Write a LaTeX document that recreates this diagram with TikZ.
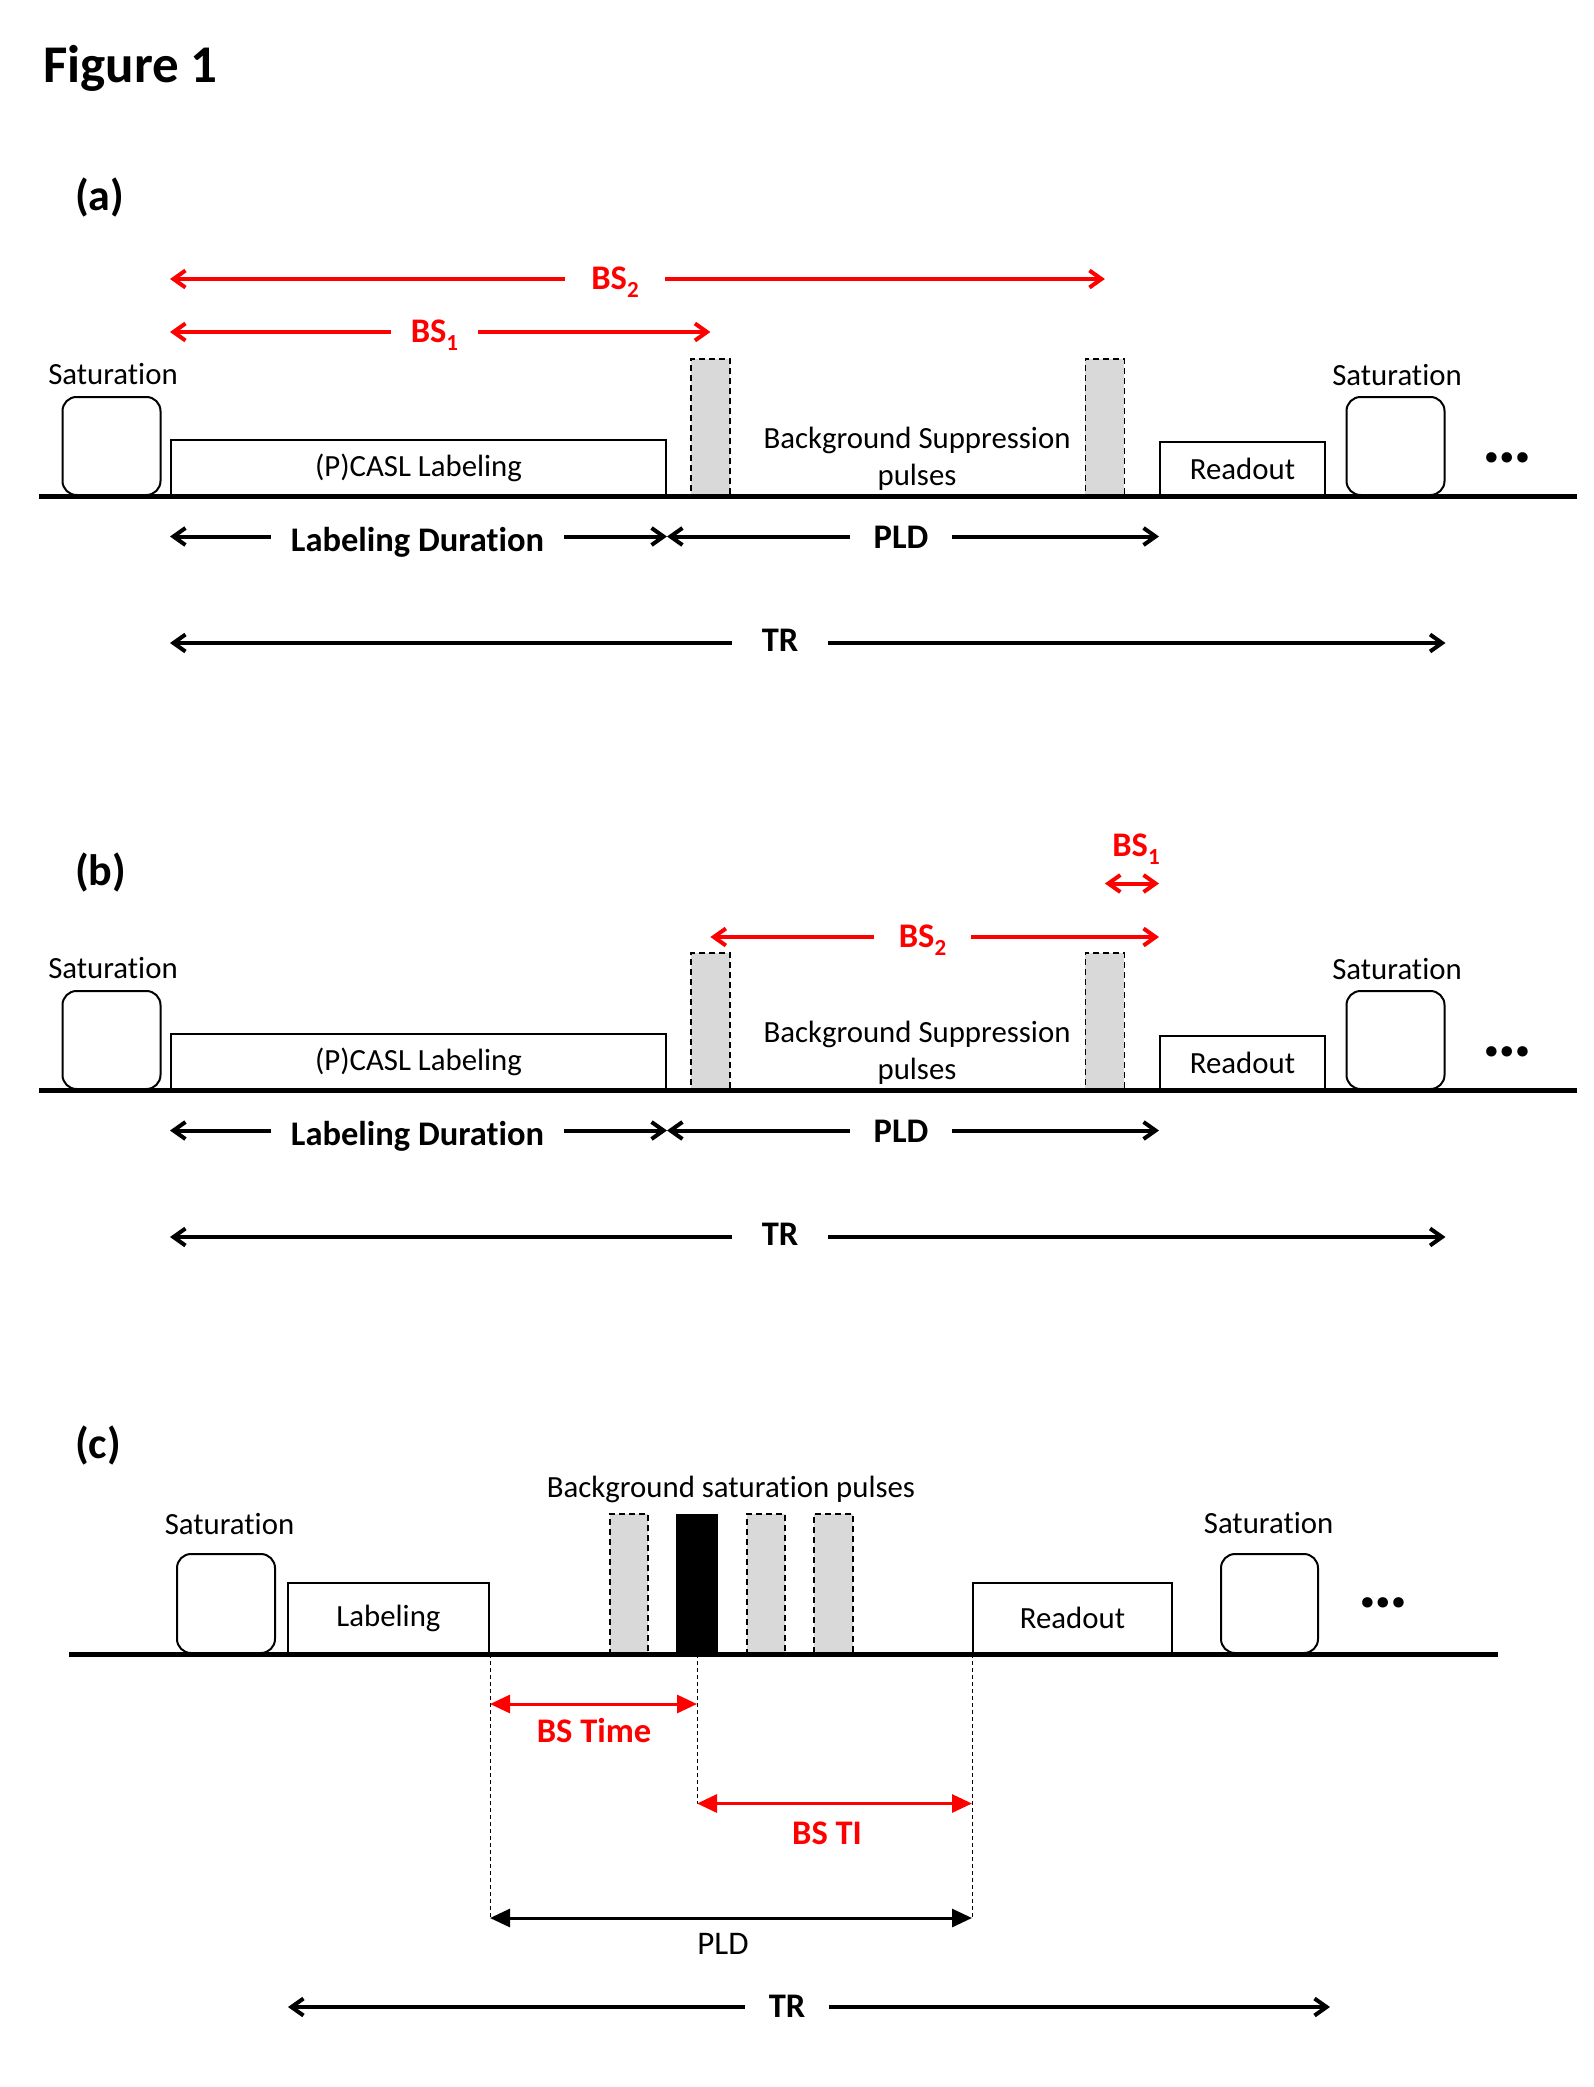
\documentclass[tikz,border=0pt]{standalone}
\usepackage{fontspec}
\setmainfont{Carlito}[Ligatures=NoCommon]
\usetikzlibrary{arrows.meta}
\definecolor{pulsegray}{HTML}{D9D9D9}
\definecolor{bsred}{HTML}{FF0000}
\newcommand{\bssub}[1]{\raisebox{-7.5pt}{\fontsize{23}{23}\selectfont #1}}
\tikzset{
  lbl/.style={inner sep=0pt, anchor=base, font=\fontsize{30.8}{37}\selectfont},
  blbl/.style={inner sep=0pt, anchor=base, font=\fontsize{34.5}{40}\selectfont\bfseries},
  plab/.style={inner sep=0pt, anchor=west, font=\fontsize{44}{50}\selectfont\bfseries},
  gapw/.style={fill=white, inner xsep=#1, inner ysep=3pt},
  box/.style={draw, line width=2pt, inner sep=0pt, anchor=south west, font=\fontsize{30.8}{37}\selectfont},
  satbox/.style={draw, line width=2pt, rounded corners=14pt, anchor=south west, inner sep=0pt},
  pulse/.style={draw, fill=pulsegray, line width=1.8pt, dash pattern=on 6pt off 4pt, anchor=south west, inner sep=0pt},
  axis/.style={line width=5pt},
  barb/.style={line width=4pt, {Straight Barb[length=12pt,width=17pt]}-{Straight Barb[length=12pt,width=17pt]}},
  tri/.style={line width=3pt, {Triangle[length=20pt,width=18pt]}-{Triangle[length=20pt,width=18pt]}},
  guide/.style={line width=1pt, dash pattern=on 4pt off 3pt},
  ell/.style={inner sep=0pt, font=\fontsize{70}{70}\selectfont\bfseries},
}
\newcommand{\panelAB}{%
  \node[satbox, minimum width=98pt, minimum height=98pt] (sat1) at (61.5,496) {};
  \node[lbl] (sat1l) at (113,384) {Saturation};
  \node[box, minimum width=495pt, minimum height=55pt] (lab) at (170,496) {(P)CASL Labeling};
  \node[pulse, minimum width=39pt, minimum height=136pt] (p1) at (690,496) {};
  \node[lbl, anchor=center, align=center] (bgs) at (917,458.5) {Background Suppression\\pulses};
  \node[pulse, minimum width=39pt, minimum height=136pt] (p2) at (1084.5,496) {};
  \node[box, minimum width=165pt, minimum height=53pt] (ro) at (1159,496) {Readout};
  \node[satbox, minimum width=98pt, minimum height=98pt] (sat2) at (1345.5,496) {};
  \node[lbl] (sat2l) at (1397,385) {Saturation};
  \node[ell] (dots) at (1507.5,458) {…};
  \coordinate (axL) at (39,496);
  \coordinate (axR) at (1577,496);
  \draw[axis] (axL) -- (axR);
  \coordinate (ld) at (0,536.5);
  \draw[barb] (lab.west |- ld) -- (lab.east |- ld);
  \node[blbl, gapw=20pt] (ldl) at (417.5,551.5) {Labeling Duration};
  \draw[barb] (lab.east |- ld) -- (ro.west |- ld);
  \node[blbl, gapw=24pt] (pldl) at (901,548.5) {PLD};
  \coordinate (tr) at (0,643);
  \draw[barb] (lab.west |- tr) -- (sat2.east |- tr);
  \node[blbl, gapw=30pt] (trl) at (780,651) {TR};
}
\begin{document}
\begin{tikzpicture}[x=1pt, y=-1pt]
  \useasboundingbox (0,0) rectangle (1593,2087);
  \fill[white] (0,0) rectangle (1593,2087);
  \node[inner sep=0pt, anchor=base west, font=\fontsize{53}{60}\selectfont\bfseries] (fig) at (43,83) {Figure 1};

  % ---------- panel (a)
  \begin{scope}[name prefix=a-]
    \panelAB
    \node[plab] (pla) at (75,197.5) {(a)};
    \coordinate (bs2) at (0,279);
    \draw[barb, bsred] (lab.west |- bs2) -- (p2 |- bs2);
    \node[blbl, text=bsred, gapw=26pt] (bs2l) at (615,289.8) {BS\bssub{2}};
    \coordinate (bs1) at (0,332);
    \draw[barb, bsred] (lab.west |- bs1) -- (p1 |- bs1);
    \node[blbl, text=bsred, gapw=20pt] (bs1l) at (434.5,342.8) {BS\bssub{1}};
  \end{scope}

  % ---------- panel (b)
  \begin{scope}[shift={(0,594)}, name prefix=b-]
    \panelAB
    \node[plab] (plb) at (75,278.5) {(b)};
    \coordinate (bs1) at (0,289.5);
    \draw[barb, bsred] (p2 |- bs1) -- (ro.west |- bs1);
    \node[blbl, text=bsred] (bs1l) at (1136,262.5) {BS\bssub{1}};
    \coordinate (bs2) at (0,343);
    \draw[barb, bsred] (p1 |- bs2) -- (ro.west |- bs2);
    \node[blbl, text=bsred, gapw=25pt] (bs2l) at (922.5,353.8) {BS\bssub{2}};
  \end{scope}

  % ---------- panel (c)
  \node[plab] (plc) at (75,1445.5) {(c)};
  \node[lbl] (bgsat) at (731,1497) {Background saturation pulses};
  \node[satbox, minimum width=98pt, minimum height=99pt] (csat1) at (176,1654) {};
  \node[lbl] (csat1l) at (229.5,1534) {Saturation};
  \node[box, minimum width=201pt, minimum height=70pt] (clab) at (287,1654) {Labeling};
  \node[pulse, minimum width=38pt, minimum height=139pt] (cp1) at (609,1654) {};
  \node[draw, fill=black, line width=1pt, minimum width=41pt, minimum height=139pt, anchor=south west, inner sep=0pt] (cpb) at (676,1654) {};
  \node[pulse, minimum width=38pt, minimum height=139pt] (cp2) at (746,1654) {};
  \node[pulse, minimum width=39pt, minimum height=139pt] (cp3) at (813,1654) {};
  \node[box, minimum width=199pt, minimum height=70pt] (cro) at (972,1654) {Readout};
  \node[satbox, minimum width=97pt, minimum height=99pt] (csat2) at (1220,1654) {};
  \node[lbl] (csat2l) at (1268.6,1533) {Saturation};
  \node[ell] (cdots) at (1383,1603) {…};
  \coordinate (caxL) at (69,1654);
  \coordinate (caxR) at (1498,1654);
  \draw[axis] (caxL) -- (caxR);
  \coordinate (cbst) at (0,1704);
  \coordinate (cbsti) at (0,1803.5);
  \coordinate (cpld) at (0,1918);
  \draw[guide] (clab.south east) -- (clab.south east |- cpld);
  \draw[guide] (cpb.south) -- (cpb.south |- cbsti);
  \draw[guide] (cro.south west) -- (cro.south west |- cpld);
  \draw[tri, bsred] (clab.south east |- cbst) -- (cpb.south |- cbst);
  \node[blbl, text=bsred] (cbstl) at (594,1742) {BS Time};
  \draw[tri, bsred] (cpb.south |- cbsti) -- (cro.south west |- cbsti);
  \node[blbl, text=bsred] (cbstil) at (827,1844) {BS TI};
  \draw[tri] (clab.south east |- cpld) -- (cro.south west |- cpld);
  \node[lbl, font=\fontsize{33}{40}\selectfont] (cpldl) at (723,1954) {PLD};
  \coordinate (ctrL) at (288,2007);
  \coordinate (ctrR) at (1330,2007);
  \draw[barb] (ctrL) -- (ctrR);
  \node[blbl, gapw=24pt] (ctrl) at (787,2017.8) {TR};
\end{tikzpicture}
\end{document}
